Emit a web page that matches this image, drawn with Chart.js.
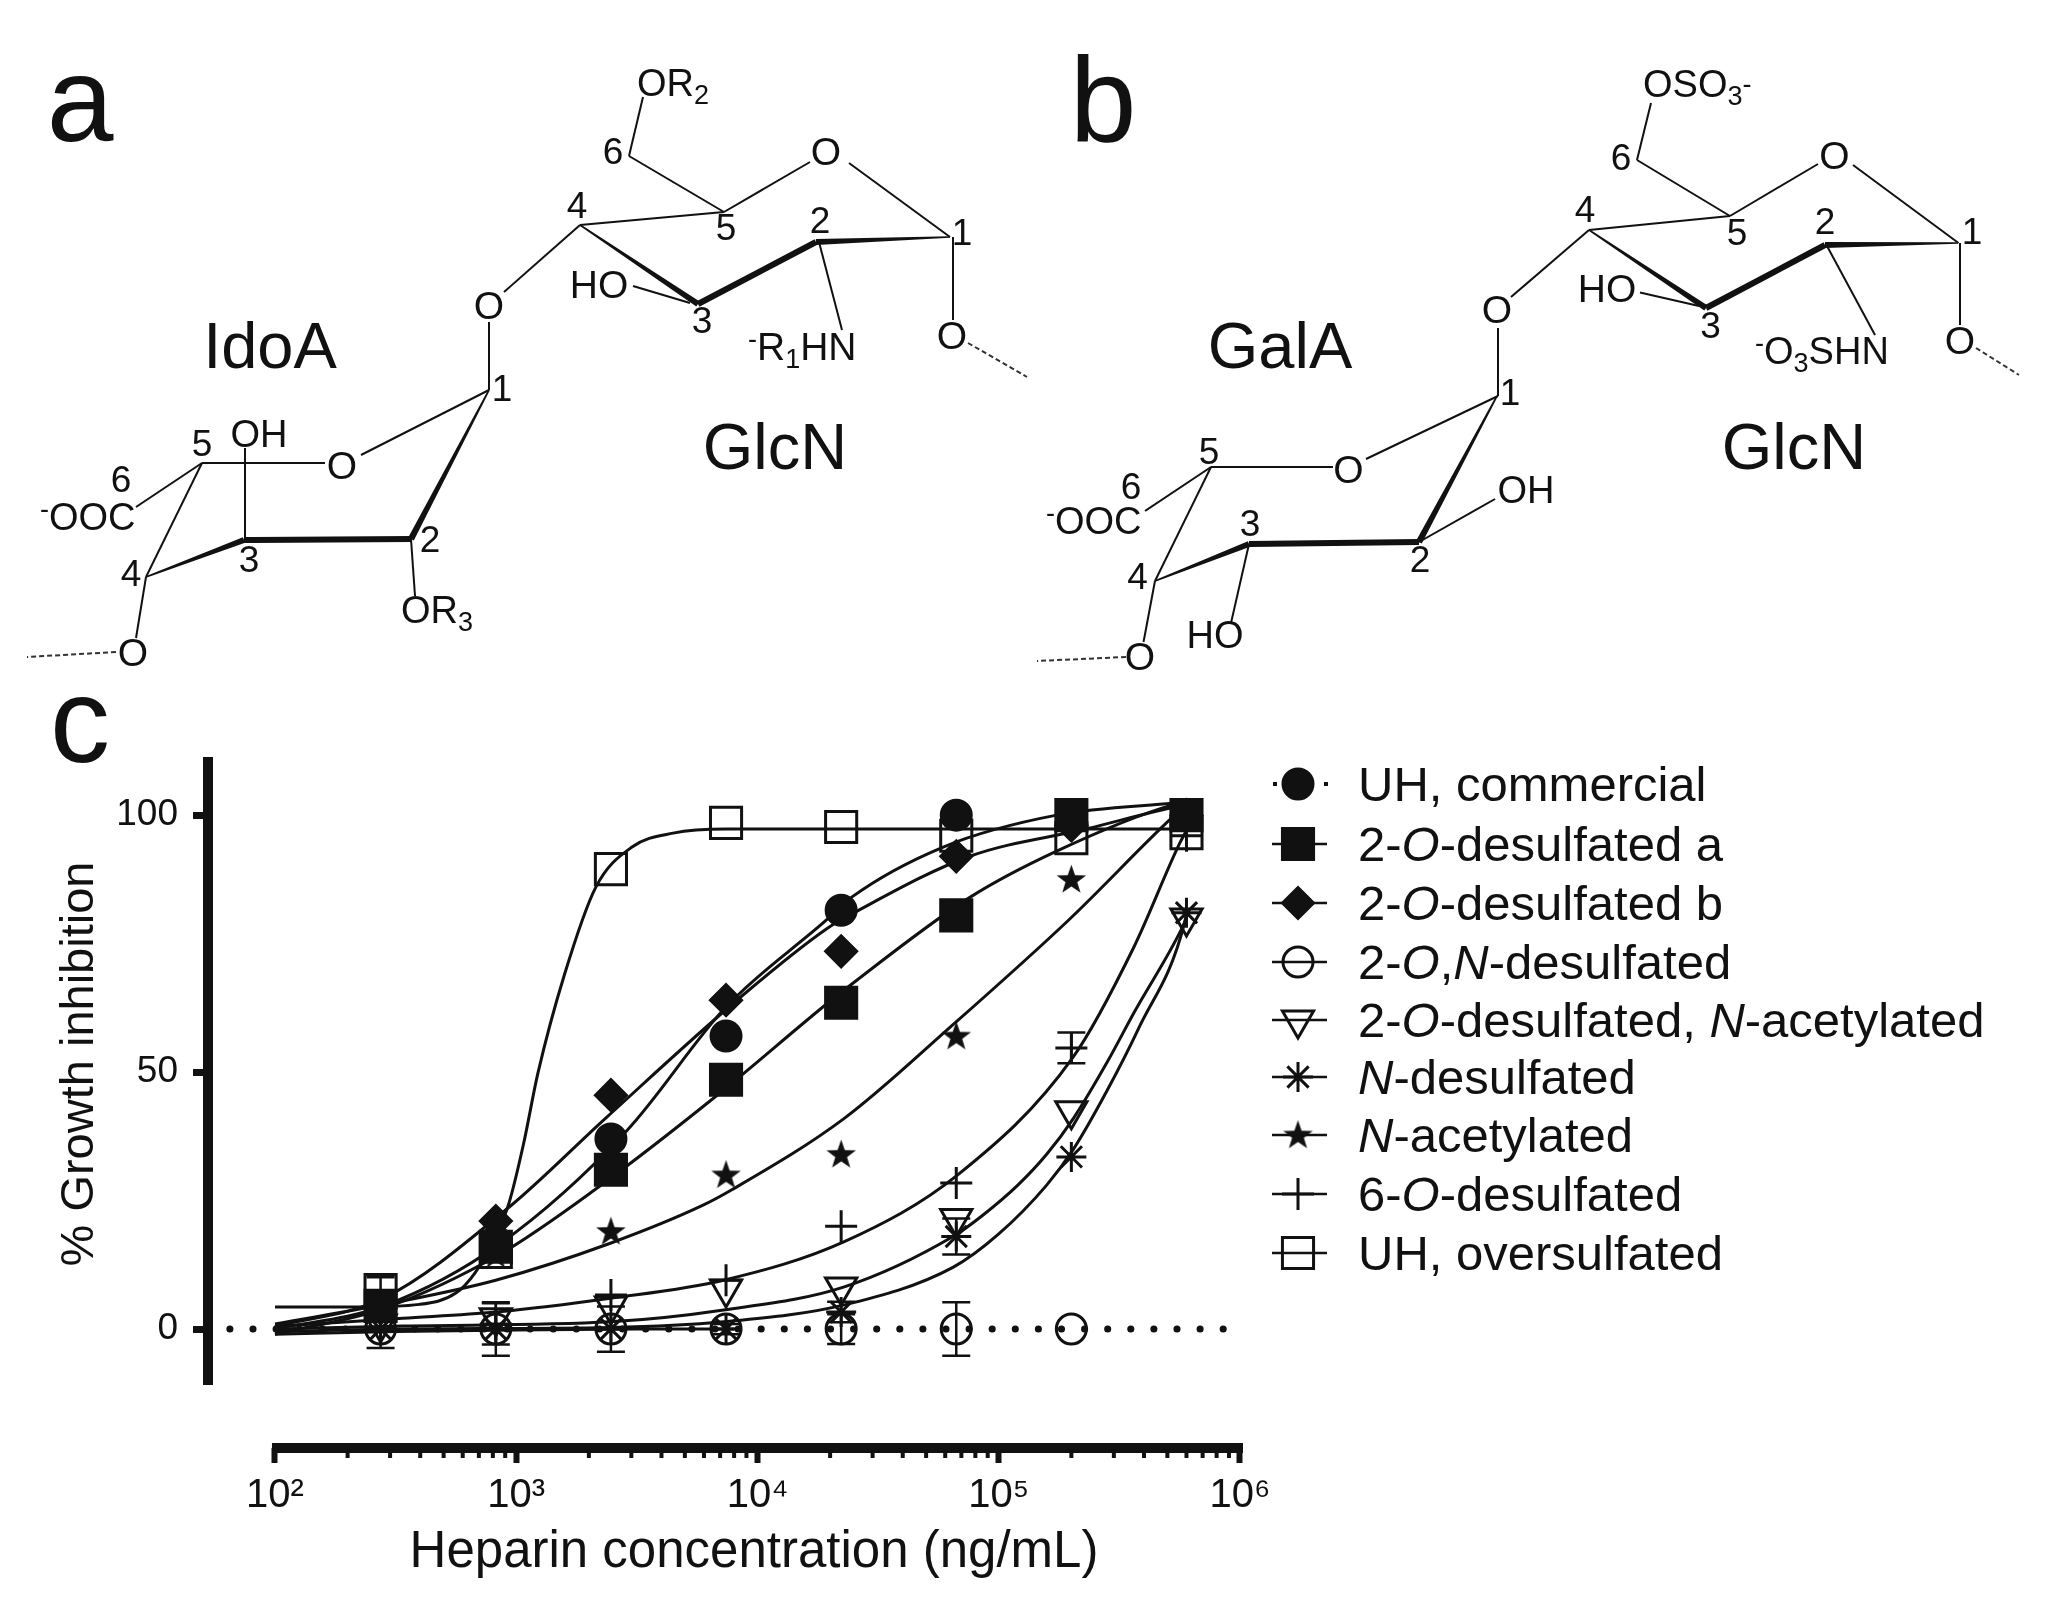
<!DOCTYPE html>
<html>
<head>
<meta charset="utf-8">
<title>Heparin growth inhibition</title>
<script src="https://cdn.jsdelivr.net/npm/chart.js@4"></script>
<style>
  html, body { margin: 0; padding: 0; background: #fff; }
  #page { position: relative; width: 2064px; height: 1624px; font-family: "Liberation Sans", Arial, sans-serif; color: #111; overflow: hidden; filter: blur(0.5px); }
  #chem { position: absolute; left: 0; top: 0; }
  #chem text { font-family: "Liberation Sans", Arial, sans-serif; fill: #111; }
  #c { position: absolute; left: 0; top: 0; }
  #legend div { position: absolute; left: 1358px; font-size: 49px; line-height: 56px; white-space: nowrap; }
</style>
</head>
<body>
<div id="page">
  <svg id="chem" width="2064" height="1624"></svg>
  <canvas id="c" width="2064" height="1624"></canvas>
  <div id="legend"></div>
</div>
<script>
// ng/mL, 3-fold dilution series
const concentrations = [274, 823, 2469, 7407, 22222, 66667, 200000, 600000];

const commercialValues = [4.5, 17, 37, 57, 81.5, 100, 100, 100];
const desulfAValues = [4.5, 16, 31, 48.5, 63.5, 80.5, 100, 100];
const desulfBValues = [4, 21, 45.5, 64, 73.5, 92, 98, 100];
const desulfONValues = [0, 0, 0, 0, 0, 0, 0];
const desulfAcValues = [1, 2.2, 4.5, 7.8, 8.2, 21.5, 42.5, 80];
const nDesulfValues = [0, 0, 0, 0, 3.3, 18, 33.5, 81];
const nAcetylValues = [4, 14.5, 19, 30, 34, 57, 87.5, 100];
const sixDesulfValues = [2, 1, 6.6, 9.5, 20, 28.4, 54.7, 96];
const oversulfValues = [7.6, 15, 89.5, 98.5, 97.7, 96, 95.5, 96.5];

// error bars (+/-), only the ones that can be seen
const desulfONErrors = [3.7, 5.2, 4.4, 1, 2.9, 5.2, 0];
const nDesulfErrors = [0, 0, 0, 0, 2, 3.5, 0, 0];
const sixDesulfErrors = [0, 4, 0, 0, 0, 0, 3, 0];
const oversulfErrors = [2.5, 0, 0, 0, 0, 0, 0, 0];

// fitted curves
const commercialCurveX = [100, 282, 851, 2884, 7413, 19320, 24500, 58900, 173800, 525000, 600000];
const commercialCurveY = [0, 4.5, 16.5, 38.7, 62.7, 79.6, 84, 93.8, 100, 102.3, 102.5];
const desulfACurveX = [100, 282, 851, 2188, 6607, 19500, 22900, 75900, 173800, 525000, 600000];
const desulfACurveY = [-1, 4, 14.5, 27.6, 45, 63.4, 66, 84, 93, 102, 102.5];
const desulfBCurveX = [100, 282, 933, 2344, 8710, 19500, 25100, 75900, 234000, 525000, 600000];
const desulfBCurveY = [0.5, 6, 23.7, 41, 65, 78, 81, 92, 97.4, 101.5, 102];
const desulfONCurveX = [100, 316, 1000, 3162, 8000];
const desulfONCurveY = [-1, -0.5, -0.2, 0, 0];
const desulfAcCurveX = [100, 339, 2455, 7244, 22900, 64600, 85100, 120000, 158000, 204000, 282000, 363000, 575000, 600000];
const desulfAcCurveY = [0, 0.6, 1.4, 3.7, 8.2, 18, 22, 28, 34, 41, 52, 61.5, 78, 80];
const nDesulfCurveX = [100, 339, 2455, 7244, 22900, 64600, 100000, 158000, 204000, 282000, 380000, 589000, 600000];
const nDesulfCurveY = [-0.5, 0, 0.3, 1.4, 4.7, 12, 18.5, 28, 35, 46.5, 58.5, 79, 81];
const nAcetylCurveX = [100, 316, 822, 2455, 5888, 7762, 22900, 63100, 195000, 525000, 600000];
const nAcetylCurveY = [1, 5.2, 9.5, 16.7, 24, 27, 41, 58.8, 79.6, 99.6, 102];
const sixDesulfCurveX = [100, 339, 822, 2455, 7244, 22900, 67600, 204000, 363000, 562000, 600000];
const sixDesulfCurveY = [0.5, 2.1, 3.3, 6, 9.5, 17, 30, 53, 74.3, 94.5, 97];
const oversulfCurveX = [100, 224, 398, 562, 676, 822, 933, 1072, 1230, 1585, 2138, 3020, 4467, 7413, 600000];
const oversulfCurveY = [4.3, 4.3, 4.8, 7, 11, 18, 24.5, 36, 49.8, 69, 86, 93.8, 96.5, 97.3, 97.3];

const baselineX = [65, 953000];
const baselineY = [0, 0];

const xTicks = [1e2, 1e3, 1e4, 1e5, 1e6];
const xTickLabels = ["10\u00B2", "10\u00B3", "10\u2074", "10\u2075", "10\u2076"];
const yTicks = [0, 50, 100];

const legendLabels = [
  "UH, commercial",
  "2-<i>O</i>-desulfated a",
  "2-<i>O</i>-desulfated b",
  "2-<i>O</i>,<i>N</i>-desulfated",
  "2-<i>O</i>-desulfated, <i>N</i>-acetylated",
  "<i>N</i>-desulfated",
  "<i>N</i>-acetylated",
  "6-<i>O</i>-desulfated",
  "UH, oversulfated",
];
const legendRowY = [784, 844, 903, 962, 1020, 1077, 1135, 1194, 1253];

const INK = "#111";

function starImage(size) {
  const cv = document.createElement("canvas");
  cv.width = size;
  cv.height = size;
  const g = cv.getContext("2d");
  const r = size / 2;
  g.beginPath();
  for (let i = 0; i < 10; i++) {
    const rad = i % 2 ? r * 0.4 : r;
    const a = -Math.PI / 2 + (i * Math.PI) / 5;
    g.lineTo(r + rad * Math.cos(a), r * 1.05 + rad * Math.sin(a));
  }
  g.closePath();
  g.fillStyle = INK;
  g.fill();
  return cv;
}

const markers = [
  { pointStyle: "circle", radius: 15, fill: INK },
  { pointStyle: "rect", radius: 22, fill: INK },
  { pointStyle: "rectRot", radius: 15.5, fill: INK },
  { pointStyle: "circle", radius: 15, fill: "transparent" },
  { pointStyle: "triangle", radius: 18, fill: "transparent", rotation: 180 },
  { pointStyle: "star", radius: 15, fill: "transparent" },
  { pointStyle: starImage(31), radius: 15, fill: INK },
  { pointStyle: "cross", radius: 16, fill: "transparent" },
  { pointStyle: "rect", radius: 22, fill: "transparent" },
];

const seriesTable = [
  [commercialValues, commercialCurveX, commercialCurveY, null],
  [desulfAValues, desulfACurveX, desulfACurveY, null],
  [desulfBValues, desulfBCurveX, desulfBCurveY, null],
  [desulfONValues, desulfONCurveX, desulfONCurveY, desulfONErrors],
  [desulfAcValues, desulfAcCurveX, desulfAcCurveY, null],
  [nDesulfValues, nDesulfCurveX, nDesulfCurveY, nDesulfErrors],
  [nAcetylValues, nAcetylCurveX, nAcetylCurveY, null],
  [sixDesulfValues, sixDesulfCurveX, sixDesulfCurveY, sixDesulfErrors],
  [oversulfValues, oversulfCurveX, oversulfCurveY, oversulfErrors],
];

function zip(xs, ys) {
  return ys.map((y, i) => ({ x: xs[i], y }));
}

const datasets = [];
datasets.push({
  label: "baseline",
  data: zip(baselineX, baselineY),
  showLine: true,
  pointRadius: 0,
  borderColor: INK,
  borderWidth: 7,
  borderDash: [0.1, 23],
  borderCapStyle: "round",
});
seriesTable.forEach((s, i) => {
  const label = legendLabels[i].replace(/<\/?i>/g, "");
  datasets.push({
    label: label + " fit",
    data: zip(s[1], s[2]),
    showLine: true,
    pointRadius: 0,
    borderColor: INK,
    borderWidth: 3,
    cubicInterpolationMode: "monotone",
  });
  datasets.push({
    label,
    data: zip(concentrations, s[0]),
    showLine: false,
    pointStyle: markers[i].pointStyle,
    pointRadius: markers[i].radius,
    pointRotation: markers[i].rotation || 0,
    pointBackgroundColor: markers[i].fill,
    pointBorderColor: INK,
    pointBorderWidth: 3,
    errorBars: s[3],
  });
});

// axes sit away from each other in the original, so the bars are drawn by hand
const axisBars = {
  id: "axisBars",
  beforeDatasetsDraw(chart) {
    const { ctx, scales } = chart;
    const xs = scales.x;
    const ys = scales.y;
    ctx.save();
    ctx.strokeStyle = INK;
    ctx.lineWidth = 10;
    ctx.beginPath();
    ctx.moveTo(ys.left + ys.width, ys.getPixelForValue(111.3));
    ctx.lineTo(ys.left + ys.width, ys.getPixelForValue(-10.9));
    ctx.moveTo(xs.getPixelForValue(100) - 3, xs.top);
    ctx.lineTo(xs.getPixelForValue(1e6) + 3, xs.top);
    ctx.stroke();
    // minor log ticks
    ctx.lineWidth = 4;
    ctx.beginPath();
    for (let d = 100; d < 1e6; d *= 10) {
      for (let m = 2; m <= 9; m++) {
        const px = xs.getPixelForValue(d * m);
        ctx.moveTo(px, xs.top);
        ctx.lineTo(px, xs.top + 10);
      }
    }
    ctx.stroke();
    ctx.restore();
  },
};

const errorBars = {
  id: "errorBars",
  afterDatasetsDraw(chart) {
    const { ctx, scales } = chart;
    ctx.save();
    ctx.strokeStyle = INK;
    ctx.lineWidth = 2.5;
    chart.data.datasets.forEach((ds) => {
      if (!ds.errorBars) return;
      ds.errorBars.forEach((e, i) => {
        if (!e) return;
        const px = scales.x.getPixelForValue(ds.data[i].x);
        const hi = scales.y.getPixelForValue(ds.data[i].y + e);
        const lo = scales.y.getPixelForValue(ds.data[i].y - e);
        ctx.beginPath();
        ctx.moveTo(px, hi);
        ctx.lineTo(px, lo);
        ctx.moveTo(px - 14, hi);
        ctx.lineTo(px + 14, hi);
        ctx.moveTo(px - 14, lo);
        ctx.lineTo(px + 14, lo);
        ctx.stroke();
      });
    });
    ctx.restore();
  },
};

const legendKeys = {
  id: "legendKeys",
  afterDraw(chart) {
    const { ctx } = chart;
    legendRowY.forEach((y, i) => {
      ctx.save();
      ctx.strokeStyle = INK;
      ctx.lineWidth = 2.5;
      if (i === 0) {
        ctx.fillStyle = INK;
        [1273, 1324].forEach((x) => ctx.fillRect(x, y - 2, 4, 4));
      } else {
        ctx.beginPath();
        ctx.moveTo(1272, y);
        ctx.lineTo(1327, y);
        ctx.stroke();
      }
      ctx.lineWidth = 3;
      ctx.fillStyle = markers[i].fill;
      Chart.helpers.drawPoint(ctx, {
        pointStyle: markers[i].pointStyle,
        radius: markers[i].radius,
        rotation: markers[i].rotation || 0,
        borderWidth: 3,
      }, 1298, y);
      ctx.restore();
    });
  },
};

new Chart(document.getElementById("c"), {
  type: "scatter",
  data: { datasets },
  plugins: [axisBars, errorBars, legendKeys],
  options: {
    responsive: false,
    animation: false,
    events: [],
    // right edge runs past 10^6 so the x title centres where the original has it
    layout: { padding: { left: 32, right: 764, top: 680, bottom: 0 } },
    plugins: { legend: { display: false }, tooltip: { enabled: false }, title: { display: false } },
    scales: {
      x: {
        type: "logarithmic",
        min: 52.77,
        max: 1773000,
        afterBuildTicks: (scale) => { scale.ticks = xTicks.map((value) => ({ value })); },
        afterFit: (scale) => { scale.height = 176; },
        grid: { drawOnChartArea: false, tickLength: 15, tickWidth: 6, tickColor: INK },
        border: { display: false },
        ticks: {
          autoSkip: false,
          maxRotation: 0,
          padding: 9,
          color: INK,
          font: { family: "Liberation Sans", size: 40 },
          callback: (value) => xTickLabels[xTicks.indexOf(value)],
        },
        title: {
          display: true,
          text: "Heparin concentration (ng/mL)",
          color: INK,
          font: { family: "Liberation Sans", size: 51 },
          padding: { top: 0, bottom: 40 },
        },
      },
      y: {
        min: -23.15,
        max: 126.3,
        afterBuildTicks: (scale) => { scale.ticks = yTicks.map((value) => ({ value })); },
        afterFit: (scale) => { scale.width = 176; },
        grid: { drawOnChartArea: false, tickLength: 15, tickWidth: 7, tickColor: INK },
        border: { display: false },
        ticks: {
          padding: 15,
          color: INK,
          font: { family: "Liberation Sans", size: 37 },
        },
        title: {
          display: true,
          text: "% Growth inhibition",
          color: INK,
          font: { family: "Liberation Sans", size: 47 },
          padding: { top: 20, bottom: 0 },
        },
      },
    },
  },
});

document.getElementById("legend").innerHTML = legendLabels
  .map((t, i) => `<div style="top:${legendRowY[i] - 28}px">${t}</div>`)
  .join("");

// ---- panels a and b, the sugar structures ----
function wedge(x1, y1, x2, y2, w1, w2) {
  const dx = x2 - x1, dy = y2 - y1;
  const len = Math.hypot(dx, dy);
  const nx = -dy / len, ny = dx / len;
  const pts = [
    [x1 + nx * w1, y1 + ny * w1], [x2 + nx * w2, y2 + ny * w2],
    [x2 - nx * w2, y2 - ny * w2], [x1 - nx * w1, y1 - ny * w1],
  ];
  return `<polygon fill="#111" points="${pts.map((p) => p.map((v) => v.toFixed(1)).join(",")).join(" ")}"/>`;
}
function bond(b) {
  return `<line x1="${b[0]}" y1="${b[1]}" x2="${b[2]}" y2="${b[3]}" stroke="#111" stroke-width="2"/>`;
}
function dashed(b) {
  return `<line x1="${b[0]}" y1="${b[1]}" x2="${b[2]}" y2="${b[3]}" stroke="#333" stroke-width="2" stroke-dasharray="5 3"/>`;
}
function label(x, y, txt, size, anchor) {
  return `<text x="${x}" y="${y}" font-size="${size || 37}" text-anchor="${anchor || "middle"}">${txt}</text>`;
}
const sub = (t) => `<tspan dy="8" font-size="27">${t}</tspan>`;
const back = (t, d) => `<tspan dy="${d}">${t}</tspan>`;
const sup = (t) => `<tspan dy="-12" font-size="27">${t}</tspan>`;

const panelA = [
  [643, 97, 629, 156], [629, 156, 724, 212], [724, 212, 810, 162], [849, 163, 950, 237],
  [580, 225, 724, 212], [580, 225, 504, 292], [489, 322, 489, 390], [819, 242, 842, 330],
  [633, 286, 690, 303], [953, 237, 953, 320], [489, 390, 361, 455], [325, 463, 202, 463],
  [202, 463, 146, 577], [202, 463, 136, 507], [245, 448, 245, 540], [411, 539, 415, 596],
  [146, 577, 136, 638],
].map(bond).join("") +
  wedge(580, 225, 698, 304, 0.8, 3) + wedge(698, 304, 816, 242, 3, 3) + wedge(816, 242, 950, 237, 3, 0.8) +
  wedge(489, 390, 411, 539, 0.8, 3.2) + wedge(411, 539, 244, 540, 3, 3) + wedge(244, 540, 146, 577, 3, 0.8) +
  [[968, 343, 1027, 377], [116, 652, 27, 657]].map(dashed).join("") +
  label(80, 141, "a", 120) +
  label(637, 96, "OR" + sub(2), 38, "start") +
  label(613, 164, "6") + label(577, 218, "4") + label(726, 240, "5") + label(826, 165, "O", 39) +
  label(820, 233, "2") + label(962, 245, "1") + label(599, 298, "HO", 39) + label(702, 333, "3") +
  label(748, 360, sup("-") + back("R", 12) + sub(1) + back("HN", -8), 39, "start") +
  label(952, 349, "O", 39) + label(270, 368, "IdoA", 65) + label(775, 469, "GlcN", 65) +
  label(489, 319, "O", 39) + label(502, 401, "1") + label(202, 456, "5") + label(259, 447, "OH", 38) +
  label(342, 479, "O", 39) + label(121, 492, "6") +
  label(40, 530, sup("-") + back("OOC", 12), 38, "start") +
  label(430, 552, "2") + label(249, 572, "3") + label(131, 586, "4") +
  label(401, 623, "OR" + sub(3), 38, "start") + label(133, 666, "O", 39);

const panelB = [
  [1651, 103, 1637, 160], [1637, 160, 1730, 216], [1730, 216, 1818, 164], [1853, 165, 1958.5, 243],
  [1589, 230, 1730, 216], [1589, 230, 1511, 297], [1498, 328, 1498, 396], [1827, 246, 1875, 335],
  [1640, 292.5, 1699, 306], [1960, 243, 1960, 325], [1498, 396, 1366, 459], [1333, 467, 1211, 467],
  [1211, 467, 1155, 581], [1211, 467, 1145, 511], [1419, 542, 1495, 499], [1249, 544, 1231, 623],
  [1155, 581, 1143.5, 642],
].map(bond).join("") +
  wedge(1589, 230, 1706, 308, 0.8, 3) + wedge(1706, 308, 1825, 245, 3, 3) + wedge(1825, 245, 1958, 243, 3, 0.8) +
  wedge(1497, 396, 1419, 542, 0.8, 3.2) + wedge(1419, 542, 1249, 544, 3, 3) + wedge(1249, 544, 1155, 581, 3, 0.8) +
  [[1976, 348, 2019, 375], [1126, 657, 1037, 661]].map(dashed).join("") +
  label(1103, 141, "b", 120) +
  label(1643, 97, "OSO" + sub(3) + back("", -8) + sup("-"), 38, "start") +
  label(1621, 170, "6") + label(1834.5, 169, "O", 39) + label(1972, 244, "1") + label(1825, 234, "2") +
  label(1585, 222, "4") + label(1737, 245, "5") + label(1607, 302, "HO", 39) + label(1710.5, 338, "3") +
  label(1755, 364, sup("-") + back("O", 12) + sub(3) + back("SHN", -8), 38, "start") +
  label(1960, 354, "O", 39) + label(1497, 323, "O", 39) + label(1510, 405, "1") +
  label(1280, 368, "GalA", 65) + label(1794, 469, "GlcN", 65) +
  label(1348.5, 483, "O", 39) + label(1209, 464, "5") + label(1131, 499, "6") +
  label(1046, 534, sup("-") + back("OOC", 12), 38, "start") +
  label(1137.5, 589, "4") + label(1250, 536, "3") + label(1420, 572, "2") +
  label(1526, 503, "OH", 38) + label(1215, 648, "HO", 38) + label(1140, 670, "O", 39);

document.getElementById("chem").innerHTML = panelA + panelB + label(80, 762, "c", 120);
</script>
</body>
</html>
